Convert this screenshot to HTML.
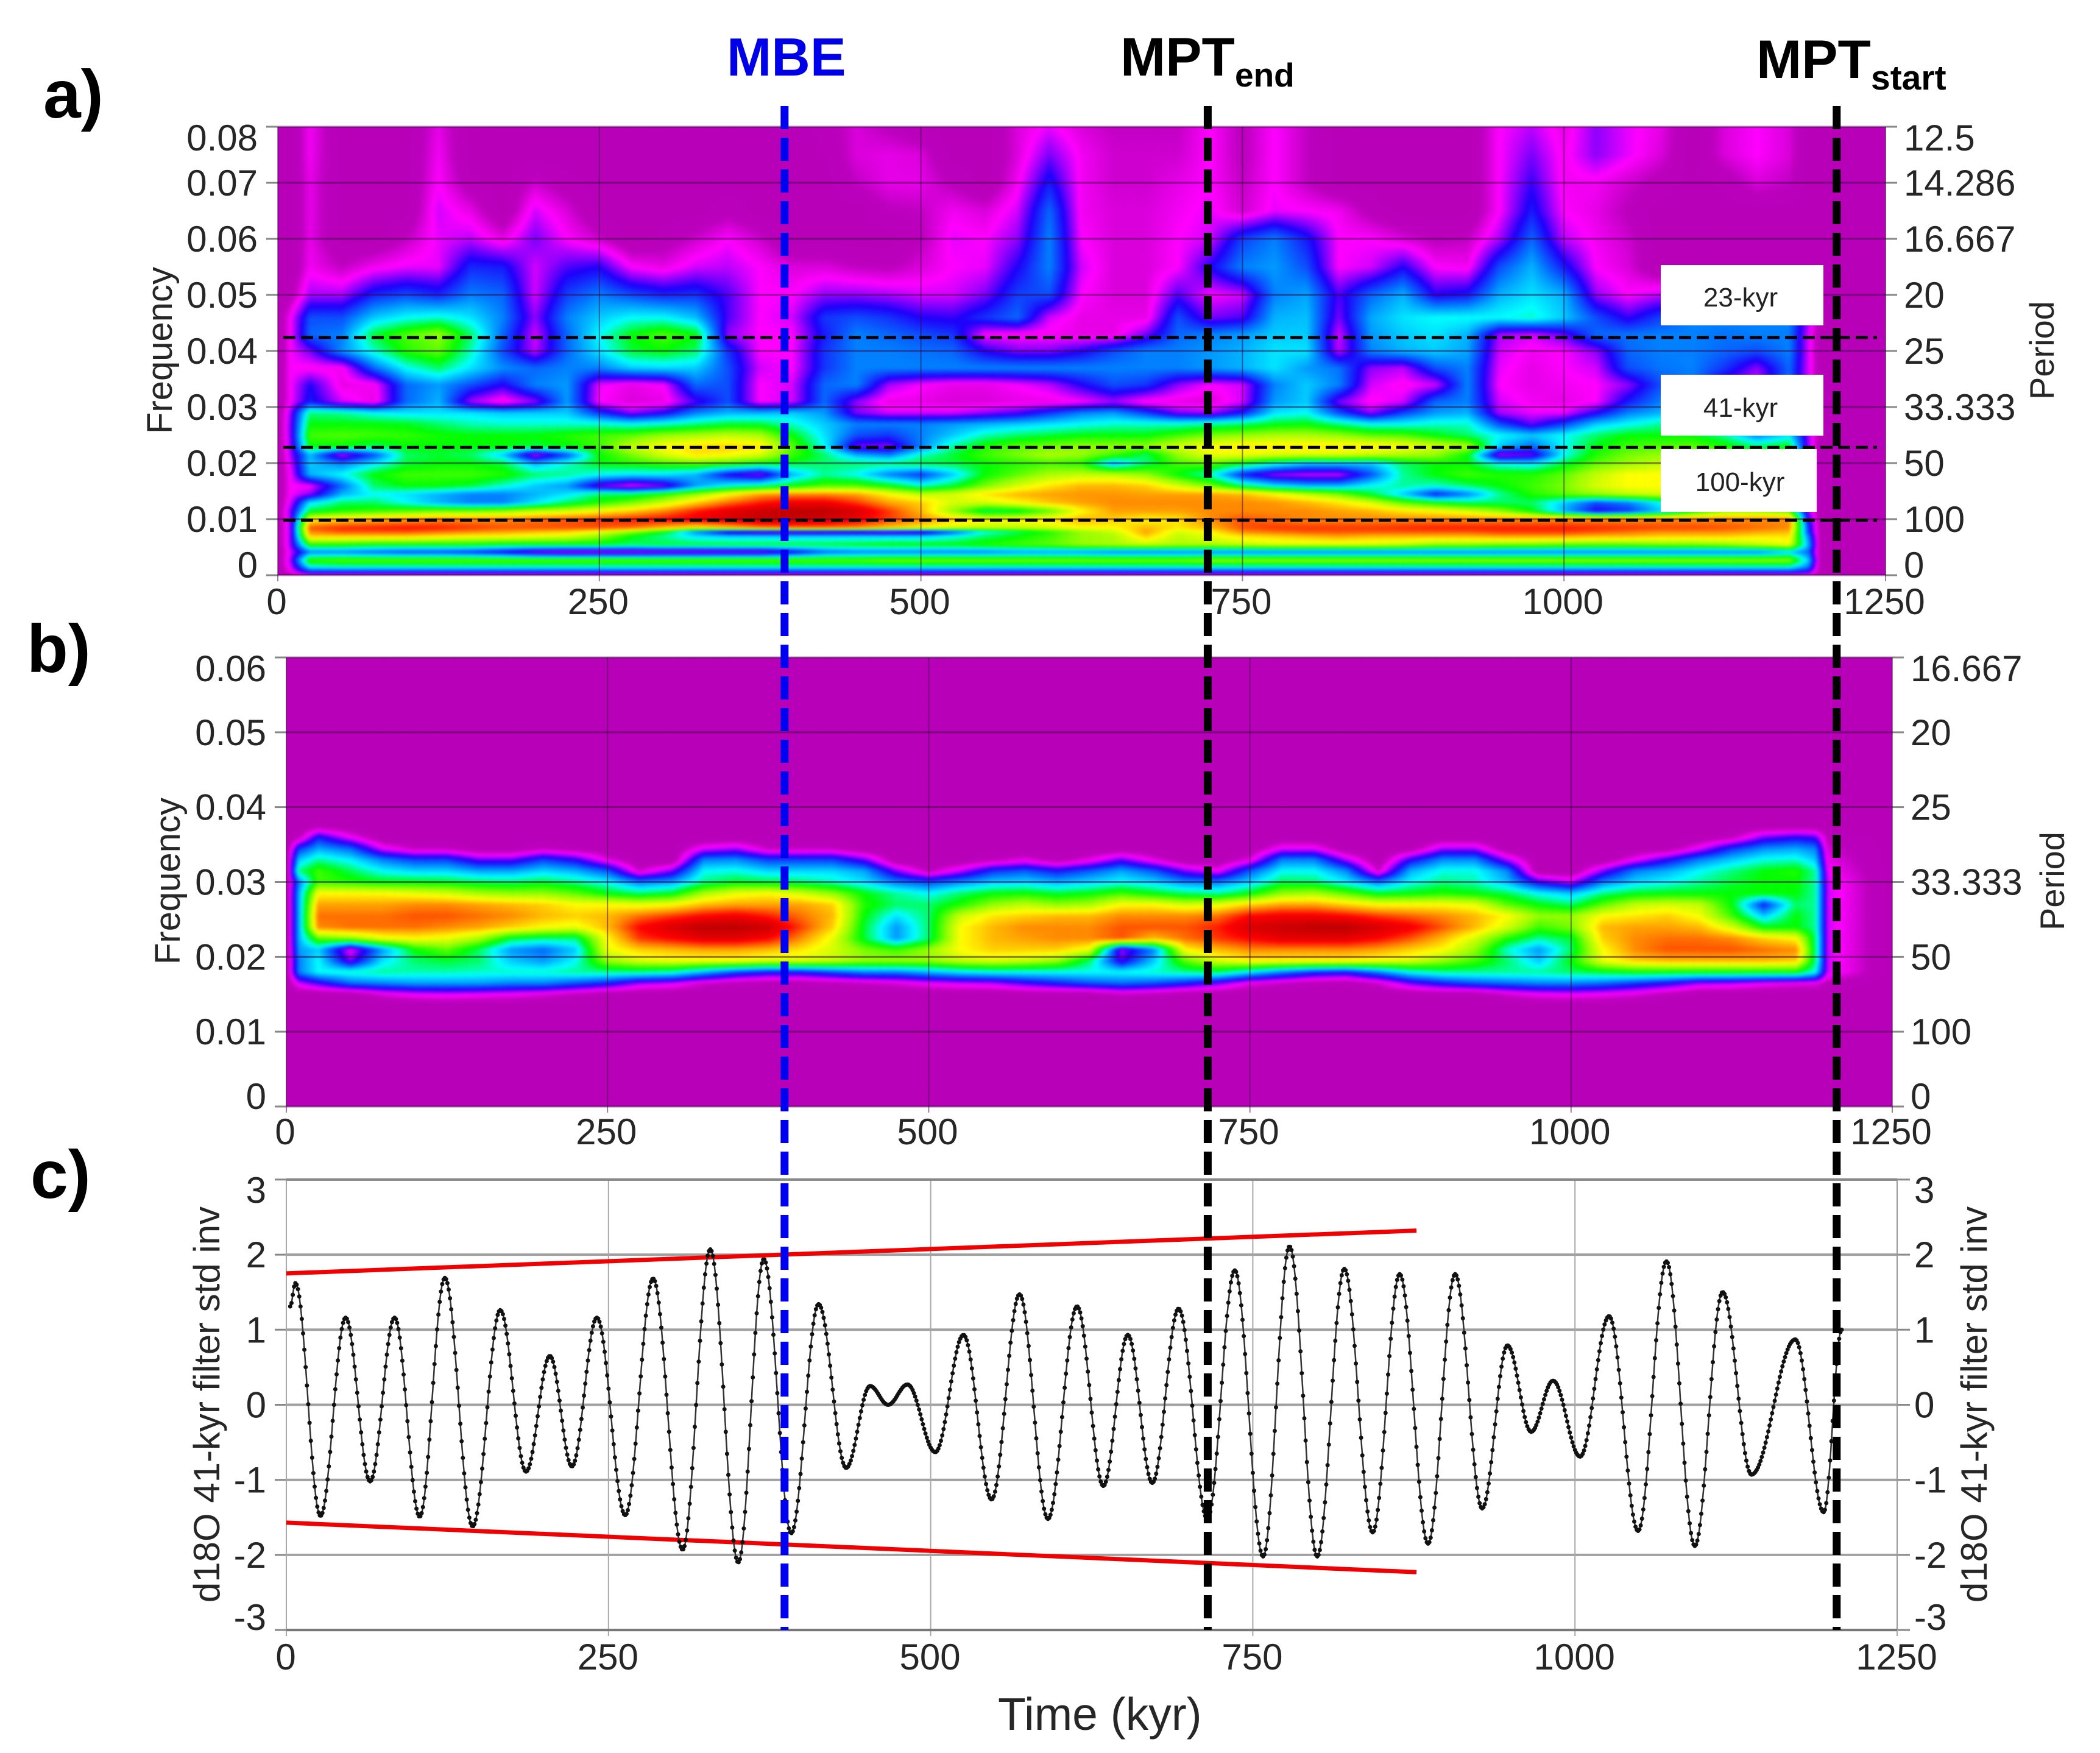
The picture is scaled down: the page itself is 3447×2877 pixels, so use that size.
<!DOCTYPE html>
<html lang="en">
<head>
<meta charset="utf-8">
<title>Wavelet spectra and 41-kyr filter</title>
<style>
html,body{margin:0;padding:0;background:#fff;}
#stage{position:relative;width:3447px;height:2877px;overflow:hidden;background:#fff;}
.heat{position:absolute;overflow:hidden;background:#b800b8;}
.heat canvas{display:block;filter:blur(2.2px);}
svg{position:absolute;left:0;top:0;}
text{font-family:"Liberation Sans",sans-serif;}
</style>
</head>
<body>
<div id="stage">
  <div class="heat" style="left:456px;top:208px;width:2639px;height:736px"><canvas id="heatA" width="2639" height="736"></canvas></div>
  <div class="heat" style="left:470px;top:1079px;width:2636px;height:737px"><canvas id="heatB" width="2636" height="737"></canvas></div>
  <svg id="plot" width="3447" height="2877" viewBox="0 0 3447 2877"></svg>
</div>
<script>
/* ---------- shared time grid of both heatmaps (kyr) ---------- */
const timeGrid = [0,10,25,50,75,100,125,150,175,200,225,250,275,300,325,350,375,400,425,450,475,500,525,550,575,600,625,650,675,700,725,750,775,800,825,850,875,900,925,950,975,1000,1025,1050,1075,1100,1125,1150,1175,1190,1200,1250];

/* ---------- panel a: frequency rows and power levels (0-10) ---------- */
const freqRowsA = [.08,.075,.07,.065,.06,.055,.05,.046,.043,.04,.037,.034,.031,.029,.027,.025,.023,.0215,.02,.018,.016,.0145,.013,.0115,.01,.0085,.0078,.007,.0055,.0042,.0027,.0016,.0007,0];
const powerA = [
[0,0,.9,0,0,0,.8,0,0,0, 0,0,0,0,0,0,0,0,.2,.7, .4,.1,0,0,.7,1.1,.7,.5,.5,.5, 1,.4,1,.5,0,0,0,0,0,1, 1.3,.8,1.5,1.1,.8,0,.7,1,.7,0, 0,0],
[0,0,.9,0,0,0,.9,0,0,0, 0,0,0,0,0,0,0,0,.1,.7, .8,.7,0,0,.7,1.6,.9,.6,.6,.6, 1,.4,1,.5,0,0,0,0,0,1, 1.6,.9,1.5,1.1,.7,0,.7,1,.7,0, 0,0],
[0,0,.8,0,0,0,1,.2,0,.6, .2,0,0,0,0,0,0,0,0,.5, .8,.8,.4,0,.9,2.2,.9,.6,.6,.8, 1,.5,1,.5,0,0,0,0,0,1, 1.9,.9,.9,.6,.3,0,.2,.7,.5,0, 0,0],
[0,0,.8,0,0,0,1.2,.8,0,1.2, .7,0,0,0,0,.3,0,0,0,0, .4,.5,.9,.7,1.2,2.8,.9,.7,.7,.9, 1.1,.6,1.1,1,.9,.3,0,0,0,1, 2.2,1,.8,.4,0,0,0,0,0,0, 0,0],
[0,0,.8,0,0,.5,1.1,1.3,.8,1.6, 1,.6,0,.2,.6,1,.6,0,0,0, 0,.4,1.1,1,1.5,3,1,.7,.7,1, 1.2,2.5,3,2.2,1,1,.7,.4,.5,1.4, 2.8,1.3,.9,.6,0,0,0,0,0,0, 0,0],
[0,0,.9,.5,.9,1.1,1.1,2.3,2.2,1.2, 1.8,2,1,.8,1.2,1.3,1,.7,.7,.5, .4,.7,1,1.1,2,3,1.2,.7,.7,1, 2,3,3.2,2.6,1,1.2,2,1,.9,2.6, 3.4,2.2,1,.7,0,0,0,0,0,0, 0,0],
[0,.3,1.4,1.4,2.3,2.6,2.3,3,2.8,1.2, 2.5,3,2.6,2.3,2.4,1.8,1,1,1.5,1.5, 1.4,1.2,1.2,1.6,2.5,2.6,1,.7,.7,1.8, 1,1.2,3,3.3,1.8,2.8,3.4,2,2.2,3.4, 3.8,3.4,1.5,1,1.3,1,.8,.8,.5,0, 0,0],
[0,1,2.6,2.6,3.6,4,4.2,3.8,3,1.5, 3,3.6,4,4,3.5,1.8,1,1.2,2.4,2.6, 2.4,2,1.9,2.4,2.8,1.2,.8,.8,.8,2.6, 1.6,1.8,3.4,3.5,1.6,3.3,3.8,4,4,4, 4.2,3.6,2.6,1.9,2.5,3,3,3,3,1.5, 0,0],
[0,1,2.8,3,4.8,5.5,6,4.6,2.8,1.2, 2.8,4,5,5.5,5,1.5,1,1,2.2,3, 2.8,2.6,2.4,1,.9,.9,.8,.8,1.6,2.8, 3,3.2,3.6,3.6,1.2,3.2,3.6,3.8,3.4,1.4, 1.2,1.7,2.8,2.9,3,3,2.9,3,3,1.2, 0,0],
[0,1,1.6,3.1,4.2,5.2,5.6,4.3,2.6,1.3, 2.8,3.8,4.8,5,4.6,2.4,1,1,2.4,3, 3,2.9,2.8,2,1.6,1.6,2,2.6,3,3, 3.2,3.4,3.8,3.8,1.3,3,3.4,3.6,3.3,1.2, .9,1,1.5,2.8,3,3,2.8,2.6,3,1.2, 0,0],
[0,1,.9,.9,2.8,4,4.6,3.8,3.1,2.8, 3,3,3.6,3.7,3.6,2.6,1.2,1,2.4,3, 3,3,3,3,3,3,3,3,3,3, 3.2,3.4,3.8,3.2,2.9,1.5,1.3,2.6,3,1.1, .8,1,1.2,2.6,2.9,3,2.4,1.5,2.8,1.2, 0,0],
[0,1,2,.8,.9,2.8,3.2,2.6,2,3, 3.2,1.1,.8,1,2.8,2.6,1,1.2,2.8,3, 1.4,1,.8,.8,1,1.3,2,2.6,2.4,1.5, 1,1.2,3,3.6,3,1.2,.9,1.2,3,1, .8,.9,1,1.5,2.6,2.9,1.6,1.2,2.8,1.2, 0,0],
[0,1,2.2,1.2,.8,2.8,3.4,1.4,.8,1.5, 3.2,1,.7,.8,1.8,2.6,1,1.2,2.8,1.5, .8,.8,.7,.7,.8,.8,1,1.4,.9,.8, .7,1.2,3.2,3.6,1.6,.9,1.2,2.8,3,1.2, .9,.8,1,2.2,3,3,3.2,3,3,1.2, 0,0],
[0,1.5,4.5,4.4,4,3.8,3.8,3.8,3.6,3.6, 3.6,2.4,1.5,2,3,3.4,3.4,3.6,3.2,1.6, 1.2,1.2,1.2,1.5,1.8,2.4,3,3.2,2.5,1.6, 1.4,2.2,3.8,4,2.6,1.5,2.5,3.2,3.4,1.4, 1.1,1.1,2,3,3.4,3.6,3.8,3.8,3.6,1.2, 0,0],
[0,1.6,5,5,5,4.9,4.6,4.3,4.2,4.2, 4.2,4.2,4,4.2,4.5,4.8,4.8,4.2,3.6,3, 3,3,3.2,3.4,3.6,3.8,4,4.2,4.2,4.2, 4.4,4.6,4.9,5,4.5,4,4,4.2,4.2,2.6, 1.7,2.5,3.6,4,4.4,4.6,4.6,4.6,4.6,1.4, 0,0],
[0,1.6,5.4,5.5,5.4,5.3,5.1,5,5,5, 5.2,5.4,5.6,6,6.2,6.4,6.2,5,3.8,2.6, 2.4,3,3.6,4.3,4.6,4.8,5,5,5,5.4, 5.8,6,6.2,6.2,6,5.6,5.5,5,4.6,4, 3.6,4,4.6,5,5,5,4.4,3,3.8,1.5, 0,0],
[0,1.5,5,5,4.6,5,5,5,5,4.8, 5,5.4,6.4,7,7.3,7.4,7.2,5.6,4,1.6, 1.5,3,4.4,5.2,5.6,5.8,6,6,6,6.6, 7,7.2,7.2,7.2,7.2,7.2,7,6.6,6.2,3.6, 2.8,4,5,5.4,5.6,5.6,5.2,4.6,5,1.5, 0,0],
[0,1.4,3.4,1.2,2.6,4.6,4.8,4.6,3.6,1.2, 2.6,5,5.8,6.6,7.2,7,6.6,5.4,4.6,3.4, 3,4.2,4.8,5.4,5.8,6.2,6,5.4,4.6,6, 6.8,6.8,6.6,6.6,6.6,6.4,6.2,6,5,1.3, 1.6,4,5.2,5.8,6,6,5.8,5.5,5.2,1.5, 0,0],
[0,1.2,3.6,3,3.8,4.8,5,5,4.8,3.4, 4.2,5,5.2,5.4,5.6,5.4,5,4.8,4.6,4.6, 4.6,4.8,4.8,5,5.2,5.4,5.2,3.4,4.6,5.4, 5.6,5,4.2,3.6,3.6,3.6,4.6,5,5,4, 3.8,4.8,5.6,6,6.4,6.8,6.4,6,5.4,1.5, 0,0],
[0,1,3.4,4,5,5.4,5.4,5.4,5.2,4.6, 4.4,4,3.8,3.8,3.4,2,1.4,3.4,4.4,4, 3,2.4,3.6,5,5.6,6.2,6.4,6.4,6,5, 4.2,2.2,1.4,1.2,1.2,2.6,4.4,5,5.4,5.2, 5.2,5.6,6.4,7,7,7,6.6,6,5.4,1.5, 0,0],
[0,1,1,2.8,4.6,5,5,4.8,4.2,3.6, 3.2,1.6,1,1.5,3.2,4,4.4,5,5.5,5.5, 5,4.2,4.8,5.8,6.6,7.2,7.6,7.6,7.4,6.6, 5.8,4.6,3.8,3.4,3.4,4,4.4,4.2,4.6,5, 5.4,5.8,6.6,7,7,7,6.8,6,5.4,1.5, 0,0],
[0,1,1.5,3.4,4,3.8,3.4,3,3,3.4, 3.8,4.6,4.6,5.2,6,7,7.8,8,8,7.8, 7,6.4,6.6,7.2,7.6,7.8,7.9,7.9,7.8,7.8, 7.8,7.6,7,6.4,5.8,4.8,3.6,2.2,3,4.4, 5.2,5.6,6,6.4,6.6,6.6,6.4,6,5.4,1.5, 0,0],
[0,1.2,3.8,4.6,4.6,4,3.4,3,3,3.8, 4.6,5.2,5.8,6.5,7.4,8.2,8.8,9.2,9.2,8.6, 7.8,7.4,6.6,6.6,7,7.5,7.8,8,8,8, 8,8,7.9,7.6,7.2,6.6,5.6,5,4.6,4.6, 4.6,3.6,2.6,3,4,5,5.6,5.6,5.4,1.5, 0,0],
[0,1.6,4.8,5.2,5.4,5.6,5.8,5.8,6,6.4, 6.6,7,7.4,8,8.8,9.4,9.8,10,10,9.6, 8.6,7.6,6,4.6,4.8,5.6,7,7.8,7.8,7.8, 8,8,8,8,7.8,7.6,7.2,7,6.6,6, 5,3.4,2,2.4,3.6,5,6,6,5.6,1.5, 0,0],
[0,1.5,7,7.4,7.6,7.8,8,8,8,8.2, 8.4,8.6,8.8,9,9.2,9.5,9.8,9.8,9.6,9.2, 8.6,8,7.4,7,7,7.2,7.6,7.4,7,7.2, 8,8.4,8.2,8,8,8,8,8,8,8, 8,8,8,8,8,8,8,8,8,2, 0,0],
[0,1.5,8.4,8.7,8.8,8.9,8.8,8.6,8.4,8.4, 8.4,8.4,8.2,7.6,7,7.4,8,8.2,8.2,8, 7.4,7,6.6,6.4,6.4,6.6,7,7,7.6,7.2, 7.6,8.4,8.6,8.6,8.6,8.6,8.7,8.8,8.8,8.8, 8.8,8.8,8.7,8.6,8.5,8.5,8.4,8.2,8,2.5, 0,0],
[0,1.5,8,8.4,8.4,8.4,8.2,8,7.8,7.6, 7.4,6.8,6,5,3,1.6,1.2,1.2,1.2,1.3, 1.2,1.4,2.6,4,4.6,5.2,6,6.5,7.8,6.6, 7,8,8.2,8.4,8.4,8.4,8.4,8.4,8.4,8.6, 8.6,8.6,8.4,8.2,8,8,8,7.8,7.6,2.5, 0,0],
[0,1.5,7.4,7.4,7.4,7.4,7.2,7,7,6.8, 6.6,6,5,4.4,3.8,3.6,3.6,3.6,3.6,3.6, 3.6,3.6,4,4.6,5,5.4,6,6.2,7.4,6.4, 6.8,7.2,7.4,7.6,7.8,7.6,7.6,7.6,7.6,7.8, 7.8,7.8,7.6,7.6,7.4,7.4,7.4,7.2,7.2,3, 0,0],
[0,1.5,5.2,5.2,5,5,5,5,4.8,4.8, 4.8,4.8,4.6,4.8,4.8,4.8,4.8,4.8,4.8,4.9, 5,5,5,5.2,5.4,5.6,6,6.2,6.4,6.2, 6.2,6.4,6.6,6.6,6.6,6.6,6.4,6,6,5.8, 5.8,5.6,5.6,5.6,5.8,5.8,6,6.4,6.8,3.4, 0,0],
[0,1.2,3,3,2.8,2.6,2.6,2.4,2,1.4, 1.2,1.2,1.2,1.3,1.3,1.4,1.4,2,2.8,3, 3,3,3,3,3.2,3.2,3.2,3,3,3, 3,3,3,3,3,3,3,3,3,3, 3,3,3,3,3,3,3,3,3.6,2.8, 0,0],
[0,1.4,5.4,5.6,5.6,5.6,5.6,5.6,5.6,5.6, 5.6,5.6,5.6,5.6,5.6,5.6,5.6,5.6,5.6,5.6, 5.8,5.8,5.8,5.8,5.8,5.8,5.8,5.8,5.8,5.8, 6,6,6,6,6,6,6,6,6,6, 6,6,6,6,6,6,6,6,6,3.6, 0,0],
[0,1.2,4,4.2,4.2,4.2,4.2,4.2,4.2,4.2, 4.2,4.2,4.2,4.2,4.2,4.2,4.2,4.2,4.2,4.2, 4.2,4.2,4.2,4.2,4.2,4.2,4.2,4.2,4.2,4.2, 4.2,4.2,4.2,4.2,4.2,4.2,4.2,4.2,4.2,4.2, 4.2,4.2,4.2,4.2,4.2,4.2,4.2,4.2,4.2,3, 0,0],
[0,.9,2.4,2.4,2.4,2.4,2.4,2.4,2.4,2.4, 2.4,2.4,2.4,2.4,2.4,2.4,2.4,2.4,2.4,2.4, 2.4,2.4,2.4,2.4,2.4,2.4,2.4,2.4,2.4,2.4, 2.4,2.4,2.4,2.4,2.4,2.4,2.4,2.4,2.4,2.4, 2.4,2.4,2.4,2.4,2.4,2.4,2.4,2.4,2.4,2, 0,0],
[0,.2,.9,.9,.9,.9,.9,.9,.9,.9, .9,.9,.9,.9,.9,.9,.9,.9,.9,.9, .9,.9,.9,.9,.9,.9,.9,.9,.9,.9, .9,.9,.9,.9,.9,.9,.9,.9,.9,.9, .9,.9,.9,.9,.9,.9,.9,.9,.9,.7, 0,0]
];

/* ---------- panel b: frequency rows and power levels (0-10) ---------- */
const freqRowsB = [.0395,.0375,.036,.0345,.033,.0315,.03,.0285,.027,.0255,.024,.0225,.021,.0195,.018,.0165,.015,.0135];
const powerB = [
[0,0,0,0,0,0,0,0,0,0, 0,0,0,0,0,0,0,0,0,0, 0,0,0,0,0,0,0,0,0,0, 0,0,0,0,0,0,0,0,0,0, 0,0,0,0,0,0,0,0,0,0, 0,0],
[0,0,.2,0,0,0,0,0,0,0, 0,0,0,0,0,0,0,0,0,0, 0,0,0,0,0,0,0,0,0,0, 0,0,0,0,0,0,0,0,0,0, 0,0,0,0,0,0,0,0,0,0, 0,0],
[0,.4,2.2,1,0,0,0,0,0,0, 0,0,0,0,0,0,0,0,0,0, 0,0,0,0,0,0,0,0,0,0, 0,0,0,0,0,0,0,0,0,0, 0,0,0,0,0,0,.4,1.6,2,1.8, .3,0],
[0,2.4,3.3,2.8,1.1,.5,.5,0,0,.5, .2,0,0,0,1.1,1.4,.5,.5,.5,0, 0,0,0,0,0,0,0,0,0,0, 0,0,1.1,1.1,0,0,.1,1.4,1.4,0, 0,0,0,0,.1,1.1,2.4,3.1,3.3,3, .6,0],
[0,3.6,4.4,3.9,3,2.5,2.5,1.7,1.7,2.5, 2,.8,0,0,3,3.1,2.5,2.5,2.5,1.7, 0,0,0,.4,.8,.2,.8,1.7,.8,0, 0,.8,3,3,1.4,0,2,3.1,3.1,1.4, 0,0,0,1,2,3,3.6,4.1,4.2,3.6, .8,0],
[0,4.5,5.4,4.7,4,3.7,3.7,3.3,3.3,3.7, 3.4,2.7,.6,1.6,4,4.1,3.7,3.7,3.7,3.3, 1.6,.4,1.3,2.4,2.7,2.2,2.7,3.3,2.7,1.6, 1,2.7,4,4,3.1,.6,3.4,4.1,4.1,3.1, 0,0,1.6,3,3.4,4,4.5,5,5.2,4.4, 1,0],
[0,3,5.4,5.2,5,5,4.9,4.7,4.6,4.8, 4.5,4,3,3.3,4.5,4.9,4.8,4.6,4.3,3.8, 3,2.6,3.1,3.6,3.7,3.4,3.7,4,3.7,3.1, 3,3.7,4.7,4.6,3.9,3,4,4.5,4.3,3.5, 2,1.3,3,3.7,4,4.4,4.8,5,5,4.4, 1.2,0],
[0,3.4,7,7,7,6.8,6.6,6.2,6,6, 5.6,5,4.6,4.9,6.2,6.8,7,6.6,6,5, 4.4,4,4.6,5,5.1,4.8,5,5.4,5,4.6, 4.4,5,6,6.2,5.6,4.9,5,5.2,5,4.7, 4,3.6,4.5,4.9,5,5,5,5,5,4.4, 1.2,0],
[0,3.4,7.8,7.8,7.8,8,8,7.8,7.6,7.4, 7,7,6.8,7,7.6,7.8,7.8,7.8,7.4,5.2, 4.6,4.6,5.2,6,6.4,6,6.2,7,7,6.6, 6.8,7.4,7.8,7.8,7.4,7,7,7,6.8,5.6, 5,4.6,5.6,6.4,6.6,6.4,5,2.2,4.6,4.4, 1.2,0],
[0,3.4,8.2,8.2,8.2,8.4,8.4,8.2,8,7.6, 7.4,7.6,8.2,8.6,9,9.2,8.8,8.2,7.6,5, 3.8,4.6,6.5,7.2,7.4,7.6,7.6,8,8,8, 8.2,9,9.2,9.2,9,8.6,8.3,8,7.6,7, 6,6,7,7.2,7.4,6.9,5.4,3.6,5,4.4, 1.2,0],
[0,3.4,8,8.2,8.2,8.2,8,7.8,7.4,7, 6.8,7.6,9,9.6,10,10,9.8,8.6,7.4,4.8, 3.2,4.6,7,7.6,8,8,8,8.4,8.4,8.4, 8.8,9.6,9.8,10,10,9.6,9.2,8.4,7.6,6.6, 5.4,5.8,7.6,7.8,7.8,7.6,6.6,5,5,4.4, 1.2,0],
[0,3.4,5.6,6,6.8,7,6.8,6.2,4.8,4.5, 4.5,7,8.6,9,9.4,9.4,9,8,6.8,4.8, 3.2,4.6,7,7.6,7.8,8,8,8.4,7.6,8.2, 8.6,9,9.4,9.4,9.4,9,8.4,7.6,6.6,5.2, 4.4,4.8,7.4,8,8.2,8.2,8,7.4,7,4.6, 1.2,0],
[0,3.2,3.6,1,3.2,5,5.6,4.6,3.2,2.8, 3.6,6.8,7.4,7.6,7.8,7.8,7.6,7.2,6.6,5.8, 5.4,6,7,7.4,7.4,7.4,6.8,1.4,3,7, 7.6,8,8,8,8,7.8,7.4,7,6,4.2, 3.2,4.6,7,8,8.4,8.4,8.4,8.2,8,4.6, 1.2,0],
[0,3,4,1.6,3.8,4.6,4.8,4.6,3.6,3.2, 4,6,6.6,6.8,6.8,6.8,6.6,6.6,6.4,6, 6,6,6.4,6.6,6.4,6,4.6,1.8,3.6,5.6, 6.6,7,7,7,7,6.8,6.6,6,5.4,4.6, 3.6,5,6.8,7.4,7.6,7.6,7.6,7.6,7.4,4.6, 1.2,0],
[0,3,4,4.2,4.4,4.3,4.3,4.2,4.2,4.2, 4.4,4.4,4.4,4.2,3.4,2.6,2.2,2.2,2.6,3, 3,3.4,3.8,4,4,4,4,4,4.2,4.4, 4.6,3.8,3,2.4,2.2,3,4,4.4,4.4,4.4, 4.4,4.6,4.8,5,5,5,5,5,5,4, 1.2,0],
[0,1.2,1.8,2.8,3,3.2,3.2,3.2,3,3, 2.6,2.2,1.4,1.2,.6,.3,.1,.1,.3,.5, .7,1,1.2,1.3,1.8,2.2,2.6,2.8,2.6,2.2, 1.6,.8,.5,.2,.1,.6,1.6,2.2,2.6,2.8, 3,3,2.8,2.4,2,1.4,1.3,1,.8,.8, .3,0],
[0,0,0,0,.7,1,1.1,1,.9,.7, .4,0,0,0,0,0,0,0,0,0, 0,0,0,0,0,0,0,.5,.3,0, 0,0,0,0,0,0,0,0,0,.6, .9,1,.9,.7,.3,0,0,0,0,0, 0,0],
[0,0,0,0,0,0,0,0,0,0, 0,0,0,0,0,0,0,0,0,0, 0,0,0,0,0,0,0,0,0,0, 0,0,0,0,0,0,0,0,0,0, 0,0,0,0,0,0,0,0,0,0, 0,0]
];

/* ---------- panel c: filtered signal turning points ---------- */
const signalTimes = [3,7,26.5,46,65,84,103.5,123,144.6,166,186,204.5,221.6,241,263,284.6,307.5,329,350.7,370.5,391.8,413,434.4,453,467,482,503.6,525.5,547.3,569,591,613.6,634,653,672,692.4,714.7,736,758,778.5,800,821,843,864,886,907,928,947.6,966,983,1004,1026.5,1049,1071,1093,1114.6,1137,1171,1193,1207];
const signalValues = [1.31,1.62,-1.48,1.16,-1.02,1.16,-1.49,1.69,-1.62,1.26,-.89,.65,-.82,1.16,-1.47,1.68,-1.93,2.07,-2.1,1.94,-1.71,1.34,-.84,.25,0,.27,-.63,.93,-1.26,1.47,-1.52,1.31,-1.08,.93,-1.04,1.28,-1.52,1.79,-2.02,2.11,-2.02,1.81,-1.7,1.74,-1.85,1.74,-1.38,.79,-.36,.32,-.69,1.18,-1.68,1.91,-1.88,1.5,-.93,.87,-1.43,1];
const envelopeTimes = [0,877];
const envelopeUpper = [1.75,2.32];
const envelopeLower = [-1.57,-2.23];

/* ---------- ticks and labels ---------- */
const timeTicks = [0,250,500,750,1000,1250];
const freqTicksA = [0,.01,.02,.03,.04,.05,.06,.07,.08];
const freqLabelsA = ['0','0.01','0.02','0.03','0.04','0.05','0.06','0.07','0.08'];
const periodLabelsA = ['0','100','50','33.333','25','20','16.667','14.286','12.5'];
const freqTicksB = [0,.01,.02,.03,.04,.05,.06];
const freqLabelsB = ['0','0.01','0.02','0.03','0.04','0.05','0.06'];
const periodLabelsB = ['0','100','50','33.333','25','20','16.667'];
const valueTicks = [-3,-2,-1,0,1,2,3];
const bandFreqs = [.0424,.0228,.0098];
const eventTimes = [394,723,1212];
const eventColors = ['#0000f0','#000','#000'];
const eventNames = ['mbe-line','mpt-end-line','mpt-start-line'];

/* ---------- colour ramp ---------- */
const rampLevels = [0,.45,1,2,3,4,5,6,7,8,9,10];
const rampColors = [[184,0,184],[188,0,190],[255,0,255],[30,0,250],[0,130,255],[0,255,255],[0,255,0],[150,255,0],[255,255,0],[255,140,0],[255,0,0],[190,0,0]];

/* ---------- axis functions ---------- */
const xA = t => 456 + t * 2.1112;
const yA = f => 944 - f * 9200;
const xB = t => 470 + t * 2.1088;
const yB = f => 1816 - f * 12283;
const xC = t => 470 + t * 2.1152;
const yC = v => 2305.5 - v * 123.2;

const svg = document.getElementById('plot');
const NS = 'http://www.w3.org/2000/svg';

function rampColor(v){
  let i = 0;
  while (i < rampLevels.length - 2 && v > rampLevels[i + 1]) i++;
  const u = Math.max(0, Math.min(1, (v - rampLevels[i]) / (rampLevels[i + 1] - rampLevels[i])));
  const a = rampColors[i], b = rampColors[i + 1];
  return 'rgb(' + Math.round(a[0] + (b[0] - a[0]) * u) + ',' + Math.round(a[1] + (b[1] - a[1]) * u) + ',' + Math.round(a[2] + (b[2] - a[2]) * u) + ')';
}

function sampleGrid(rowFreqs, grid, t, f){
  if (f > rowFreqs[0] || f < rowFreqs[rowFreqs.length - 1]) return 0;
  let r = 0;
  while (r < rowFreqs.length - 2 && f < rowFreqs[r + 1]) r++;
  let c = 0;
  while (c < timeGrid.length - 2 && t > timeGrid[c + 1]) c++;
  const ur = (rowFreqs[r] - f) / (rowFreqs[r] - rowFreqs[r + 1]);
  const uc = (t - timeGrid[c]) / (timeGrid[c + 1] - timeGrid[c]);
  const top = (grid[r][c] || 0) * (1 - uc) + (grid[r][c + 1] || 0) * uc;
  const bot = (grid[r + 1][c] || 0) * (1 - uc) + (grid[r + 1][c + 1] || 0) * uc;
  return top * (1 - ur) + bot * ur;
}

function paintHeat(id, rowFreqs, grid, xScale, yScale, fMax){
  const canvas = document.getElementById(id);
  const g = canvas.getContext('2d');
  const ox = xScale(0), oy = yScale(fMax);
  const dt = 1.5, df = fMax / 320;
  for (let t = 0; t < 1250; t += dt) {
    for (let f = 0; f < fMax; f += df) {
      const v = sampleGrid(rowFreqs, grid, t + dt / 2, f + df / 2);
      const x0 = xScale(t) - ox, y0 = yScale(f + df) - oy;
      g.fillStyle = rampColor(v);
      g.fillRect(x0, y0, xScale(t + dt) - xScale(t) + .6, yScale(f) - yScale(f + df) + .6);
    }
  }
}
paintHeat('heatA', freqRowsA, powerA, xA, yA, .08);
paintHeat('heatB', freqRowsB, powerB, xB, yB, .06);

function line(x1, y1, x2, y2, color, width, dash){
  const el = document.createElementNS(NS, 'line');
  el.setAttribute('x1', x1);
  el.setAttribute('y1', y1);
  el.setAttribute('x2', x2);
  el.setAttribute('y2', y2);
  el.setAttribute('stroke', color);
  el.setAttribute('stroke-width', width);
  if (dash) el.setAttribute('stroke-dasharray', dash);
  svg.appendChild(el);
  return el;
}
function label(x, y, str, size, anchor, color, weight, rotate){
  const el = document.createElementNS(NS, 'text');
  el.setAttribute('x', x);
  el.setAttribute('y', y);
  el.setAttribute('font-size', size);
  el.setAttribute('text-anchor', anchor);
  el.setAttribute('fill', color);
  if (weight) el.setAttribute('font-weight', weight);
  if (rotate) el.setAttribute('transform', 'rotate(' + rotate + ' ' + x + ' ' + y + ')');
  el.textContent = str;
  svg.appendChild(el);
  return el;
}

const gridDark = 'rgba(60,0,70,.5)';

function heatAxes(tag, xs, ys, fTicks, fLabels, pLabels, xLeft, xRight, labelRight, periodX, xLabelY){
  const yTop = ys(fTicks[fTicks.length - 1]), yBot = ys(0);
  fTicks.forEach((f, i) => {
    const y = ys(f);
    const g = line(xLeft, y, xRight, y, gridDark, 3);
    
    
    const tl = line(xLeft - 19, y, xLeft, y, '#888', 3);
    
    
    const tr = line(xRight, y, xRight + 19, y, '#888', 3);
    
    
    const nudge = i === 0 ? -17 : (i === fTicks.length - 1 ? 18 : 0);
    const a = label(xLeft - 33, y + nudge + 21, fLabels[i], 60, 'end', '#262626');
    
    
    const b = label(labelRight, y + nudge + 21, pLabels[i], 60, 'start', '#262626');
    
    
  });
  timeTicks.forEach(t => {
    const x = xs(t);
    const g = line(x, yTop, x, yBot + 10, gridDark, 2);
    
    
    const a = label(x - 2, xLabelY, String(t), 60, 'middle', '#262626');
    
    
  });
}
heatAxes('panel-a', xA, yA, freqTicksA, freqLabelsA, periodLabelsA, 456, 3095, 3125, 3350, 1008);
heatAxes('panel-b', xB, yB, freqTicksB, freqLabelsB, periodLabelsB, 470, 3106, 3136, 3367, 1878);

/* panel c grid */
valueTicks.forEach((v, i) => {
  const y = yC(v);
  const g = line(470, y, 3114, y, '#a0a0a0', 4);
  
  
  const tl = line(451, y, 470, y, '#888', 3);
  
  
  const tr = line(3114, y, 3135, y, '#888', 3);
  
  
  const nudge = i === 0 ? -21 : (i === valueTicks.length - 1 ? 17 : 0);
  const a = label(437, y + nudge + 21, String(v), 60, 'end', '#262626');
  
  
  const b = label(3142, y + nudge + 21, String(v), 60, 'start', '#262626');
  
  
});
timeTicks.forEach(t => {
  const x = xC(t);
  const g = line(x, 1936, x, 2685, '#a8a8a8', 2);
  
  
  const a = label(x - 1, 2740, String(t), 60, 'middle', '#262626');
  
  
});
const cRightAxis = line(3114, 1936, 3114, 2675, '#999', 2);


const cTop = line(470, yC(3), 3114, yC(3), '#888', 4);


const cBottom = line(470, yC(-3), 3114, yC(-3), '#777', 4);



/* envelope lines */
function envelope(vals, name){
  const el = line(xC(envelopeTimes[0]), yC(vals[0]), xC(envelopeTimes[1]), yC(vals[1]), '#f00000', 7);
  
  
}
envelope(envelopeUpper, 'upper-envelope-line');
envelope(envelopeLower, 'lower-envelope-line');

/* signal curve: smooth swing between successive turning points, marker per kyr */
function signalAt(t){
  let i = 0;
  while (i < signalTimes.length - 2 && t > signalTimes[i + 1]) i++;
  const u = (t - signalTimes[i]) / (signalTimes[i + 1] - signalTimes[i]);
  return signalValues[i] + (signalValues[i + 1] - signalValues[i]) * (1 - Math.cos(Math.PI * u)) / 2;
}
let linePath = '', dotPath = '';
const tStart = signalTimes[0], tEnd = signalTimes[signalTimes.length - 1];
for (let t = tStart; t <= tEnd; t += .25) {
  linePath += (t === tStart ? 'M' : 'L') + xC(t).toFixed(1) + ' ' + yC(signalAt(t)).toFixed(1);
}
for (let t = tStart; t <= tEnd; t += 1) {
  dotPath += 'M' + xC(t).toFixed(1) + ' ' + yC(signalAt(t)).toFixed(1) + 'h0';
}
const sigLine = document.createElementNS(NS, 'path');
sigLine.setAttribute('d', linePath);
sigLine.setAttribute('fill', 'none');
sigLine.setAttribute('stroke', '#333');
sigLine.setAttribute('stroke-width', '2.5');


svg.appendChild(sigLine);
const sigDots = document.createElementNS(NS, 'path');
sigDots.setAttribute('d', dotPath);
sigDots.setAttribute('fill', 'none');
sigDots.setAttribute('stroke', '#111');
sigDots.setAttribute('stroke-width', '7');
sigDots.setAttribute('stroke-linecap', 'round');


svg.appendChild(sigDots);

/* band boxes */
function box(x, y, w, h, name){
  const el = document.createElementNS(NS, 'rect');
  el.setAttribute('x', x);
  el.setAttribute('y', y);
  el.setAttribute('width', w);
  el.setAttribute('height', h);
  el.setAttribute('fill', '#fff');
  
  
  svg.appendChild(el);
}
box(2726, 435, 267, 99, 'band-box-23-kyr');
box(2726, 615, 267, 100, 'band-box-41-kyr');
box(2726, 737, 256, 103, 'band-box-100-kyr');
const l23 = label(2857, 503, '23-kyr', 44, 'middle', '#222');


const l41 = label(2857, 684, '41-kyr', 44, 'middle', '#222');


const l100 = label(2856, 806, '100-kyr', 44, 'middle', '#222');



/* horizontal dashed band lines */
bandFreqs.forEach(f => {
  const el = line(465, yA(f), 3081, yA(f), '#000', 5, '20 9');
  
  
});

/* vertical event lines */
eventTimes.forEach((t, i) => {
  const el = line(xA(t), 174, xA(t), 2675, eventColors[i], 13, '38 14');
  
  
});

/* titles */
const ttlA1 = label(282, 575, 'Frequency', 58, 'middle', '#262626', null, -90);


const ttlA2 = label(3371, 575, 'Period', 56, 'middle', '#262626', null, -90);


const ttlB1 = label(295, 1446, 'Frequency', 58, 'middle', '#262626', null, -90);


const ttlB2 = label(3388, 1446, 'Period', 56, 'middle', '#262626', null, -90);


const ttlC1 = label(360, 2305, 'd18O 41-kyr filter std inv', 60, 'middle', '#262626', null, -90);


const ttlC2 = label(3261, 2305, 'd18O 41-kyr filter std inv', 60, 'middle', '#262626', null, -90);


const ttlX = label(1638, 2839, 'Time (kyr)', 75, 'start', '#262626');



const mbe = label(1193, 124, 'MBE', 88, 'start', '#0000e8', 'bold');


const mptEnd = label(1839, 124, 'MPT', 89, 'start', '#000', 'bold');


const mptEndSub = label(2027, 142, 'end', 55, 'start', '#000', 'bold');


const mptStart = label(2883, 128, 'MPT', 89, 'start', '#000', 'bold');


const mptStartSub = label(3071, 147, 'start', 57, 'start', '#000', 'bold');



const pa = label(71, 193, 'a)', 111, 'start', '#000', 'bold');


const pb = label(44, 1103, 'b)', 111, 'start', '#000', 'bold');


const pc = label(50, 1966, 'c)', 111, 'start', '#000', 'bold');


</script>
</body>
</html>
